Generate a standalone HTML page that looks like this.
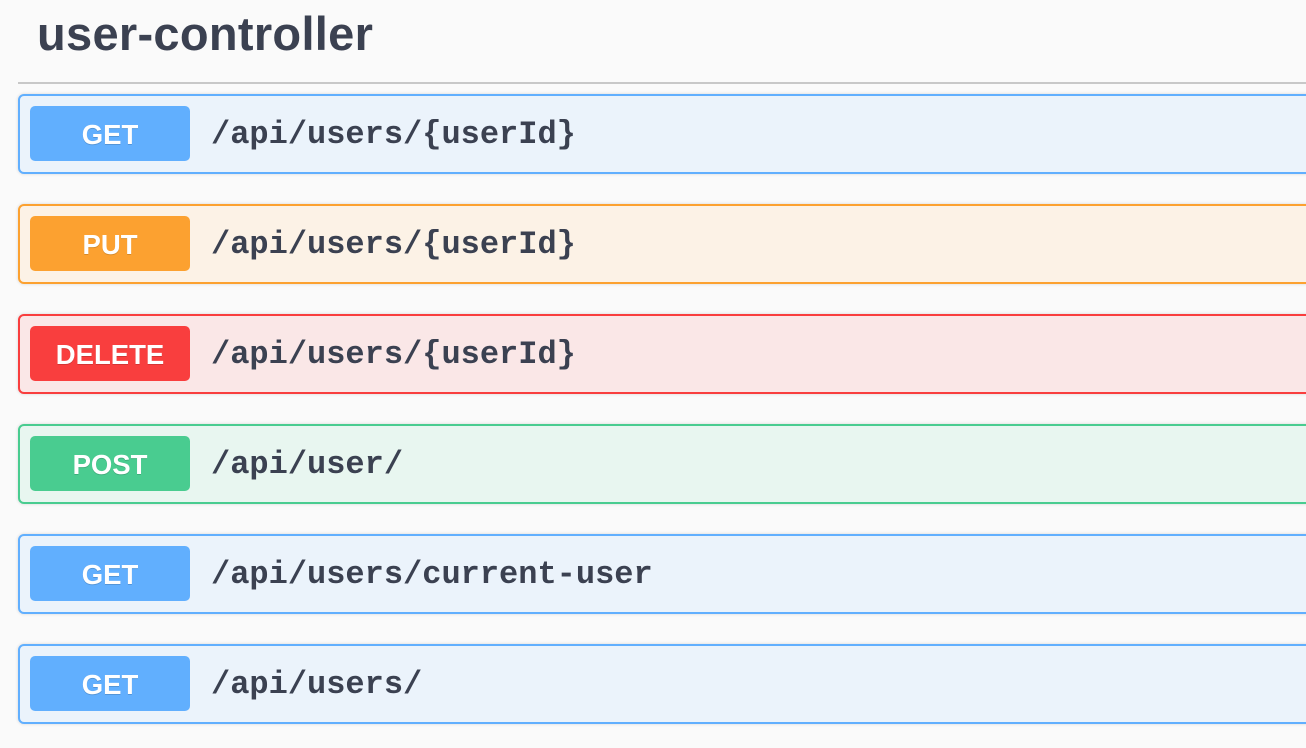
<!DOCTYPE html>
<html><head><meta charset="utf-8"><style>
body{margin:0;width:1306px;height:748px;background:#fafafa;overflow:hidden;font-family:"Liberation Sans",sans-serif;position:relative}
h1{position:absolute;left:37px;top:6px;margin:0;font-size:47px;font-weight:bold;color:#3b4151;line-height:56px;letter-spacing:0.3px}
.hr{position:absolute;left:18px;right:0;top:82px;height:2px;background:#c8c8c8}
.op{position:absolute;left:18px;width:1320px;height:76px;border:2px solid;border-radius:6px;box-sizing:content-box;box-shadow:0 0 3px rgba(0,0,0,.15)}
.b{position:absolute;left:10px;top:10px;width:160px;height:55px;border-radius:5px;color:#fff;font-weight:bold;font-size:27.5px;text-align:center;line-height:57px;text-shadow:0 1px 0 rgba(0,0,0,.15)}
.p{position:absolute;left:191px;top:1px;line-height:76px;font-family:"Liberation Mono",monospace;font-weight:bold;font-size:32px;color:#3b4151}
.get{background:#ebf3fb;border-color:#61affe}.get .b{background:#61affe}
.put{background:#fcf2e6;border-color:#fca130}.put .b{background:#fca130}
.del{background:#fae7e7;border-color:#f93e3e}.del .b{background:#f93e3e}
.post{background:#e8f6f0;border-color:#49cc90}.post .b{background:#49cc90}
</style></head><body>
<h1>user-controller</h1>
<div class="hr"></div>
<div class="op get" style="top:94px"><div class="b">GET</div><div class="p">/api/users/{userId}</div></div>
<div class="op put" style="top:204px"><div class="b">PUT</div><div class="p">/api/users/{userId}</div></div>
<div class="op del" style="top:314px"><div class="b">DELETE</div><div class="p">/api/users/{userId}</div></div>
<div class="op post" style="top:424px"><div class="b">POST</div><div class="p">/api/user/</div></div>
<div class="op get" style="top:534px"><div class="b">GET</div><div class="p">/api/users/current-user</div></div>
<div class="op get" style="top:644px"><div class="b">GET</div><div class="p">/api/users/</div></div>
</body></html>
